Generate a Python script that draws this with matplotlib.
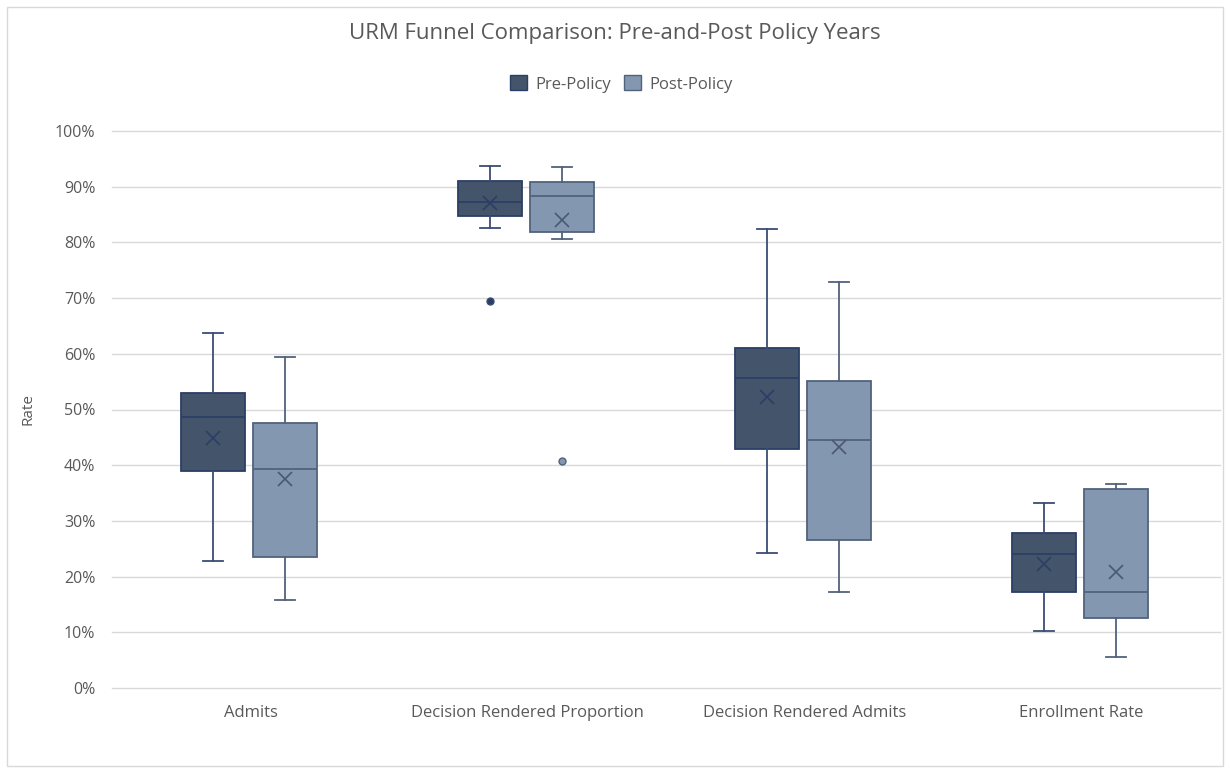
import numpy as np
import matplotlib
matplotlib.use('Agg')
import matplotlib.pyplot as plt
from matplotlib.patches import Patch, Rectangle

plt.rcParams['font.family'] = ['Open Sans', 'DejaVu Sans']

categories = ['Admits', 'Decision Rendered Proportion', 'Decision Rendered Admits', 'Enrollment Rate']
series = ['Pre-Policy', 'Post-Policy']

# five-number summaries + mean (fractions)
pre_whislo = [0.228, 0.825, 0.243, 0.103]
pre_q1     = [0.390, 0.848, 0.429, 0.172]
pre_med    = [0.486, 0.873, 0.556, 0.241]
pre_q3     = [0.530, 0.911, 0.611, 0.278]
pre_whishi = [0.637, 0.937, 0.824, 0.332]
pre_mean   = [0.448, 0.870, 0.523, 0.223]
pre_fliers = [[], [0.695], [], []]

post_whislo = [0.158, 0.806, 0.173, 0.056]
post_q1     = [0.236, 0.819, 0.265, 0.125]
post_med    = [0.394, 0.883, 0.446, 0.173]
post_q3     = [0.475, 0.909, 0.552, 0.357]
post_whishi = [0.594, 0.935, 0.729, 0.367]
post_mean   = [0.375, 0.840, 0.432, 0.209]
post_fliers = [[], [0.408], [], []]

#*********************************************************************************************
def make_stats(lo, q1, med, q3, hi, mean, fl):
    return [dict(whislo=lo[i], q1=q1[i], med=med[i], q3=q3[i], whishi=hi[i],
                 mean=mean[i], fliers=fl[i]) for i in range(len(lo))]

def draw_series(ax, stats, pos, fill, edge, whisk, meanc, flierfill):
    ax.bxp(stats, positions=pos, widths=0.23, showmeans=True, patch_artist=True,
           boxprops=dict(facecolor=fill, edgecolor=edge, linewidth=1.3),
           medianprops=dict(color=edge, linewidth=1.3),
           whiskerprops=dict(color=whisk, linewidth=1.3),
           capprops=dict(color=whisk, linewidth=1.3),
           capwidths=0.07,
           meanprops=dict(marker='x', markeredgecolor=meanc, markersize=10, markeredgewidth=1.2),
           flierprops=dict(marker='o', markerfacecolor=flierfill, markeredgecolor=whisk,
                           markersize=5, markeredgewidth=1),
           manage_ticks=False, zorder=3)

#*********************************************************************************************
fig = plt.figure(figsize=(12.3, 7.72), dpi=100)
ax = fig.add_axes([112/1230, 1-688/772, (1220-112)/1230, (688-131)/772])

# chart frame
fig.patches.append(Rectangle((7/1230, 1-766/772), 1-14/1230, 759/772, transform=fig.transFigure,
                             fill=False, edgecolor='#d9d9d9', linewidth=1))

x = np.arange(len(categories)) + 0.5
pre_c, pre_e = '#44546A', '#2B3E66'
post_c, post_e = '#8497B0', '#52627C'

draw_series(ax, make_stats(pre_whislo, pre_q1, pre_med, pre_q3, pre_whishi, pre_mean, pre_fliers),
            x - 0.135, pre_c, pre_e, '#3A4D75', '#2B3E66', '#2B3E66')
draw_series(ax, make_stats(post_whislo, post_q1, post_med, post_q3, post_whishi, post_mean, post_fliers),
            x + 0.125, post_c, post_e, '#52627C', '#4A5872', '#8497B0')

ax.set_xlim(0, 4)
ax.set_ylim(0, 1)
ax.set_yticks(np.arange(0, 1.01, 0.1))
ax.set_yticklabels(['{}%'.format(int(round(v*100))) for v in np.arange(0, 1.01, 0.1)])
ax.set_xticks(x)
ax.set_xticklabels(categories)
ax.tick_params(axis='x', length=0, labelsize=12, colors='#595959', pad=12)
ax.tick_params(axis='y', length=0, labelsize=11.5, colors='#595959', pad=12)
ax.grid(axis='y', color='#d9d9d9', linewidth=1, zorder=0)
for gl in ax.get_ygridlines():
    gl.set_clip_on(False)
ax.set_axisbelow(True)
for s in ax.spines.values():
    s.set_visible(False)
ax.set_ylabel('Rate', fontsize=11, color='#595959', labelpad=14)

fig.text(0.5, 1-34/772, 'URM Funnel Comparison: Pre-and-Post Policy Years', ha='center', va='center',
         fontsize=16, color='#595959')
handles = [Patch(facecolor=pre_c, edgecolor=pre_e, label=series[0]),
           Patch(facecolor=post_c, edgecolor=post_e, label=series[1])]
fig.legend(handles=handles, loc='center', bbox_to_anchor=(0.505, 1-84/772), ncol=2, frameon=False,
           fontsize=12, handlelength=1.0, handleheight=1.0, handletextpad=0.5, columnspacing=0.8,
           labelcolor='#595959')

plt.savefig('out.png', dpi=100)
